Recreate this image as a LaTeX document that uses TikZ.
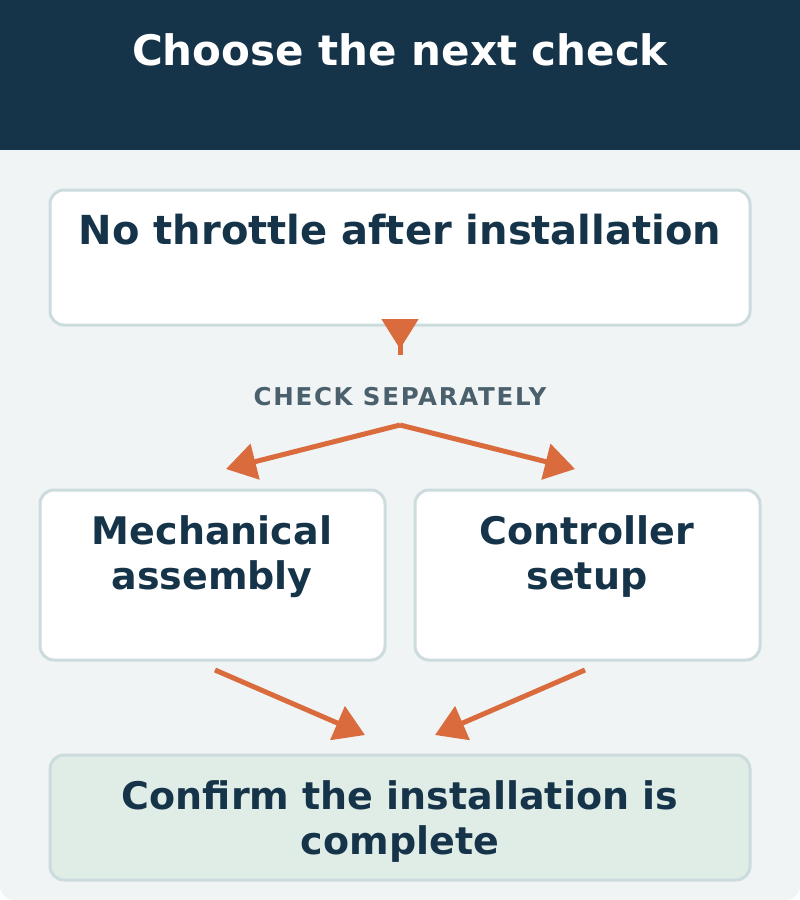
\documentclass[tikz,border=0pt]{standalone}
\usepackage{fontspec}
\setmainfont{DejaVu Sans}
\newfontfamily\spacedfont[LetterSpace=7]{DejaVu Sans}
\usetikzlibrary{arrows.meta}
\definecolor{navy}{HTML}{163449}
\definecolor{bgc}{HTML}{F0F4F5}
\definecolor{edgec}{HTML}{CCDBDE}
\definecolor{greenc}{HTML}{E0ECE6}
\definecolor{labelc}{HTML}{4A606C}
\definecolor{orangec}{HTML}{D96B3D}
\tikzset{
  box/.style={draw=edgec, line width=3pt, rounded corners=14pt, fill=white, inner sep=0pt, outer sep=0pt, anchor=north west},
  boxtext/.style={text=navy, font=\bfseries\fontsize{38}{45}\selectfont, align=center, anchor=base, inner sep=0pt},
  flow/.style={draw=orangec, line width=5pt, -{Triangle[length=30pt,width=36pt]}},
}
\begin{document}
\begin{tikzpicture}[x=1pt,y=-1pt]
\useasboundingbox (0,0) rectangle (800,900);
\fill[white] (0,0) rectangle (800,900);
\fill[bgc, rounded corners=14pt] (0,0) rectangle (800,900);
\fill[navy] (0,0) rectangle (800,150);
\node[text=white, font=\bfseries\fontsize{42}{50}\selectfont, anchor=base, inner sep=0pt] (title) at (400,65) {Choose the next check};

\node[box, minimum width=700pt, minimum height=135pt] (b1) at (50,190) {};
\node[boxtext, font=\bfseries\fontsize{40}{46}\selectfont] (t1) at (400,244) {No throttle after installation};

\node[box, minimum width=345pt, minimum height=170pt] (b2) at (40,490) {};
\node[boxtext] (t2) at (212,589) {Mechanical\\assembly};
\node[box, minimum width=345pt, minimum height=170pt] (b3) at (415,490) {};
\node[boxtext] (t3) at (587,589) {Controller\\setup};

\node[box, fill=greenc, minimum width=700pt, minimum height=125pt] (b4) at (50,755) {};
\node[boxtext] (t4) at (400,854) {Confirm the installation is\\complete};

\node[text=labelc, font=\spacedfont\bfseries\fontsize{24.5}{28}\selectfont, anchor=base, inner sep=0pt] (lab) at (400,405) {CHECK SEPARATELY};

\coordinate (a1s) at (400,319);
\coordinate (a1e) at (400,349);
\coordinate (a1m) at (400,338);
\coordinate (a1x) at (400,355);
\draw[flow] (a1s) -- (a1e);
\draw[orangec, line width=5pt] (a1m) -- (a1x);

\coordinate (fork) at (400,425);
\coordinate (l1) at (226,469);
\coordinate (r1) at (575,469);
\draw[flow] (fork) -- (l1);
\draw[flow] (fork) -- (r1);

\coordinate (l2s) at (215,670);
\coordinate (l2e) at (365,735);
\coordinate (r2s) at (585,670);
\coordinate (r2e) at (435,735);
\draw[flow] (l2s) -- (l2e);
\draw[flow] (r2s) -- (r2e);
\end{tikzpicture}
\end{document}
